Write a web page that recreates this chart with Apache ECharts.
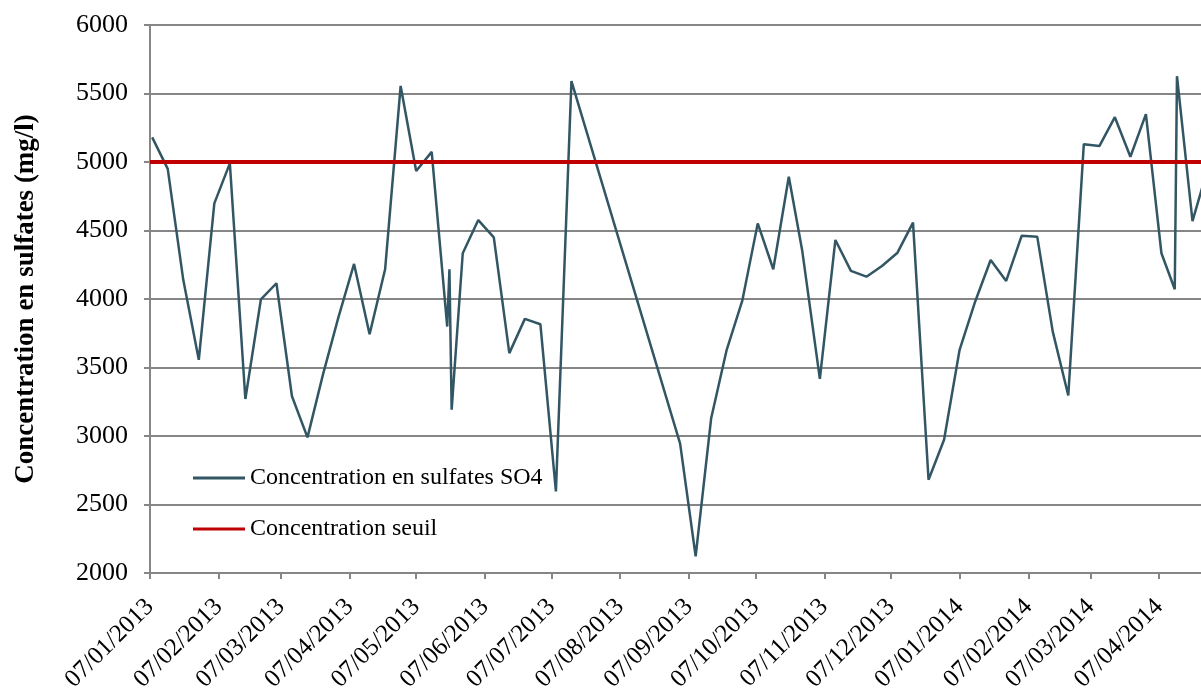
<!DOCTYPE html>
<html>
<head>
<meta charset="utf-8">
<script src="https://cdn.jsdelivr.net/npm/echarts@6/dist/echarts.min.js"></script>
<style>
  html, body { margin: 0; padding: 0; background: #fff; }
  #chart { width: 1201px; height: 690px; }
</style>
</head>
<body>
<div id="chart"></div>
<script>
// dates de prélèvement
var dates = [
  '2013-01-08', '2013-01-15', '2013-01-22', '2013-01-29', '2013-02-05', '2013-02-12',
  '2013-02-19', '2013-02-26', '2013-03-05', '2013-03-12', '2013-03-19', '2013-03-26',
  '2013-04-02', '2013-04-09', '2013-04-16', '2013-04-23', '2013-04-30', '2013-05-07',
  '2013-05-14', '2013-05-21', '2013-05-22', '2013-05-23', '2013-05-28', '2013-06-04',
  '2013-06-11', '2013-06-18', '2013-06-25', '2013-07-02', '2013-07-09', '2013-07-16',
  '2013-09-03', '2013-09-10', '2013-09-17', '2013-09-24', '2013-10-01', '2013-10-08',
  '2013-10-15', '2013-10-22', '2013-10-28', '2013-11-05', '2013-11-12', '2013-11-19',
  '2013-11-26', '2013-12-03', '2013-12-10', '2013-12-17', '2013-12-24', '2013-12-31',
  '2014-01-07', '2014-01-14', '2014-01-21', '2014-01-28', '2014-02-04', '2014-02-11',
  '2014-02-18', '2014-02-25', '2014-03-04', '2014-03-11', '2014-03-18', '2014-03-25',
  '2014-04-01', '2014-04-08', '2014-04-14', '2014-04-15', '2014-04-22', '2014-04-29'
];
// concentration en sulfates SO4 (mg/l)
var sulfates = [
  5180, 4950, 4140, 3556, 4698, 4990,
  3270, 3998, 4115, 3290, 2990, 3450,
  3870, 4256, 3743, 4217, 5555, 4934,
  5074, 3799, 4217, 3192, 4334, 4576,
  4450, 3605, 3855, 3816, 2596, 5590,
  2944, 2122, 3130, 3629, 3986, 4552,
  4217, 4892, 4358, 3417, 4431, 4205,
  4163, 4241, 4338, 4557, 2681, 2973,
  3629, 3980, 4285, 4132, 4462, 4455,
  3762, 3296, 5130, 5116, 5327, 5038,
  5349, 4334, 4071, 5626, 4569, 4960
];
// seuil
var seuilDates = ['2013-01-07', '2014-04-29'];
var seuil = [5000, 5000];

var tickLabels = [
  '07/01/2013', '07/02/2013', '07/03/2013', '07/04/2013', '07/05/2013', '07/06/2013',
  '07/07/2013', '07/08/2013', '07/09/2013', '07/10/2013', '07/11/2013', '07/12/2013',
  '07/01/2014', '07/02/2014', '07/03/2014', '07/04/2014'
];

function ts(s) {
  var p = s.split('-');
  return new Date(+p[0], +p[1] - 1, +p[2]).getTime();
}
function tsFr(s) {
  var p = s.split('/');
  return new Date(+p[2], +p[1] - 1, +p[0]).getTime();
}
function pad(n) { return n < 10 ? '0' + n : '' + n; }

var tickValues = tickLabels.map(tsFr);
var xMin = tickValues[0];
var xMax = ts('2014-04-25') + 20 * 3600 * 1000;

var serif = '"Liberation Serif", "Times New Roman", serif';
var grey = '#868686';

var chart = echarts.init(document.getElementById('chart'));
var option = {
  animation: false,
  grid: { left: 150, right: 0, top: 25, bottom: 117, containLabel: false, outerBoundsMode: 'none' },
  legend: {
    orient: 'vertical',
    left: 188,
    top: 461,
    itemWidth: 52,
    itemHeight: 3,
    itemGap: 27,
    icon: 'rect',
    textStyle: { fontFamily: serif, fontSize: 24, color: '#000' },
    data: ['Concentration en sulfates SO4', 'Concentration seuil']
  },
  xAxis: {
    type: 'value',
    min: xMin,
    max: xMax,
    axisLine: { lineStyle: { color: grey, width: 2 } },
    axisTick: { show: true, length: 6, lineStyle: { color: grey, width: 2 }, customValues: tickValues },
    axisLabel: {
      customValues: tickValues,
      rotate: 45,
      margin: 30,
      fontFamily: serif,
      fontSize: 25,
      color: '#000',
      formatter: function (v) {
        var d = new Date(v);
        return pad(d.getDate()) + '/' + pad(d.getMonth() + 1) + '/' + d.getFullYear();
      }
    },
    splitLine: { show: false }
  },
  yAxis: {
    type: 'value',
    min: 2000,
    max: 6000,
    interval: 500,
    name: 'Concentration en sulfates (mg/l)',
    nameLocation: 'middle',
    nameGap: 110,
    nameTextStyle: { fontFamily: serif, fontSize: 27, fontWeight: 'bold', color: '#000' },
    axisLine: { show: true, lineStyle: { color: grey, width: 2 } },
    axisTick: { show: true, length: 6, lineStyle: { color: grey, width: 2 } },
    axisLabel: {
      margin: 22,
      fontFamily: serif,
      fontSize: 26,
      color: '#000',
      formatter: function (v) { return String(v); }
    },
    splitLine: { lineStyle: { color: grey, width: 2 } }
  },
  series: [
    {
      name: 'Concentration en sulfates SO4',
      type: 'line',
      symbol: 'none',
      clip: true,
      data: dates.map(function (d, i) { return [ts(d), sulfates[i]]; }),
      lineStyle: { color: '#325663', width: 2.5 },
      itemStyle: { color: '#325663' },
      z: 3
    },
    {
      name: 'Concentration seuil',
      type: 'line',
      symbol: 'none',
      clip: true,
      data: seuilDates.map(function (d, i) { return [ts(d), seuil[i]]; }),
      lineStyle: { color: '#c00000', width: 4 },
      itemStyle: { color: '#c00000' },
      z: 4
    }
  ]
};
chart.setOption(option);
</script>
</body>
</html>
